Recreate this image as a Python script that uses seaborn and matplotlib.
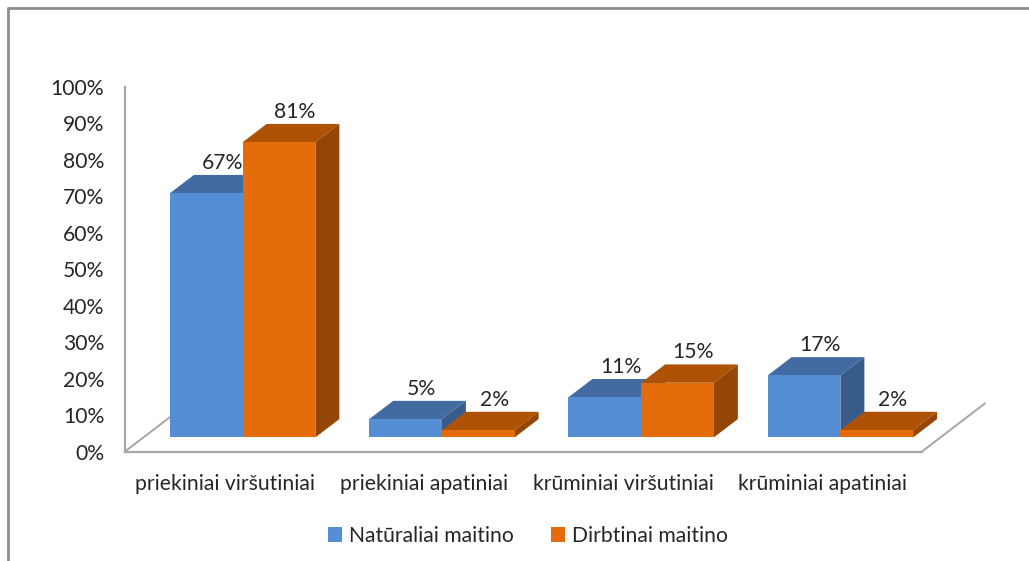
import matplotlib
matplotlib.use("Agg")
import matplotlib.pyplot as plt
from matplotlib.lines import Line2D
from matplotlib.patches import Patch, Polygon
import pandas as pd
import seaborn as sns

categories = ["priekiniai viršutiniai", "priekiniai apatiniai",
              "krūminiai viršutiniai", "krūminiai apatiniai"]
natural = [67, 5, 11, 17]
artificial = [81, 2, 15, 2]
series_names = ["Natūraliai maitino", "Dirbtinai maitino"]
y_ticks = list(range(0, 101, 10))

FRONT = {series_names[0]: "#558ED5", series_names[1]: "#E46C0A"}
TOP = {series_names[0]: "#426CA1", series_names[1]: "#AE5206"}
SIDE = {series_names[0]: "#375C8A", series_names[1]: "#944606"}
TEXT = "#262626"
AXIS = "#A6A6A6"

W, H = 1029, 561
FONT = "Lato"
FS = 15.2

sns.set_theme(style="white")
plt.rcParams["font.family"] = [FONT, "DejaVu Sans"]

df = pd.DataFrame({
    "category": categories * 2,
    "share": natural + artificial,
    "series": [series_names[0]] * 4 + [series_names[1]] * 4,
})


def px_rect(left, right, top, bottom):
    return [left / W, 1 - bottom / H, (right - left) / W, (bottom - top) / H]


fig = plt.figure(figsize=(W / 100, H / 100), dpi=100, facecolor="white")

# Front plane: value axis, category labels and the floor outline
ax = fig.add_axes(px_rect(125, 922, 87, 451.5))
ax.set_xlim(-0.5, 3.5)
ax.set_ylim(0, 100)
ax.set_xticks(range(4), categories)
ax.set_yticks(y_ticks, [f"{v}%" for v in y_ticks])
ax.tick_params(axis="x", length=0, pad=16.5, labelsize=FS, labelcolor=TEXT)
ax.tick_params(axis="y", length=0, pad=15, labelsize=FS, labelcolor=TEXT)
for name in ("top", "right"):
    ax.spines[name].set_visible(False)
for name in ("left", "bottom"):
    ax.spines[name].set_color(AXIS)
    ax.spines[name].set_linewidth(1.6)
floor_dx, floor_dy = 0.316, 13.2
for x0 in (-0.5, 3.5):
    ax.add_line(Line2D([x0, x0 + floor_dx], [0, floor_dy], color=AXIS, lw=1.4,
                       clip_on=False, zorder=1))

# Bars stand on a plane set back from the front edge of the floor
bars_ax = fig.add_axes(px_rect(143, 940, 73, 437.4))
bars_ax.patch.set_alpha(0)
sns.barplot(data=df, x="category", y="share", hue="series", order=categories,
            hue_order=series_names, palette=FRONT, width=0.73, dodge=True,
            saturation=1, legend=False, ax=bars_ax)
bars_ax.set_xlim(-0.5, 3.5)
bars_ax.set_ylim(0, 100)
bars_ax.axis("off")

depth_x, depth_y = 24 / (797 / 4), 18.3 / 3.64

for s, (container, name) in enumerate(zip(bars_ax.containers, series_names)):
    base_z = 3 + 3 * s
    for patch, value in zip(container.patches, container.datavalues):
        x0, x1 = patch.get_x(), patch.get_x() + patch.get_width()
        patch.set_zorder(base_z + 2)
        patch.set_edgecolor("none")
        bars_ax.add_patch(Polygon(
            [(x0, value), (x1, value), (x1 + depth_x, value + depth_y),
             (x0 + depth_x, value + depth_y)],
            closed=True, facecolor=TOP[name], edgecolor="none", zorder=base_z))
        bars_ax.add_patch(Polygon(
            [(x1, 0), (x1 + depth_x, depth_y), (x1 + depth_x, value + depth_y),
             (x1, value)],
            closed=True, facecolor=SIDE[name], edgecolor="none", zorder=base_z + 1))
        bars_ax.annotate(f"{value:.0f}%", ((x0 + x1) / 2, value + depth_y),
                         xytext=(11.5, 8.8), textcoords="offset points",
                         ha="center", va="center", fontsize=FS, color=TEXT,
                         zorder=20, annotation_clip=False)

# Legend below the plot
handles = [Patch(facecolor=FRONT[n], edgecolor="none", label=n) for n in series_names]
fig.legend(handles=handles, ncol=2, frameon=False, fontsize=FS, labelcolor=TEXT,
           loc="center", bbox_to_anchor=(528 / W, 1 - 536 / H),
           handlelength=0.67, handleheight=0.67, handletextpad=0.33, columnspacing=1.75)

# Chart area frame, cut off by the page at the right and bottom
frame = dict(color="#8C8C8C", lw=2.0, transform=fig.transFigure)
fig.add_artist(Line2D([7.5 / W, 7.5 / W], [0, 1 - 8 / H], **frame))
fig.add_artist(Line2D([7.5 / W, 1], [1 - 8 / H, 1 - 8 / H], **frame))

fig.savefig("out.png", dpi=100)
